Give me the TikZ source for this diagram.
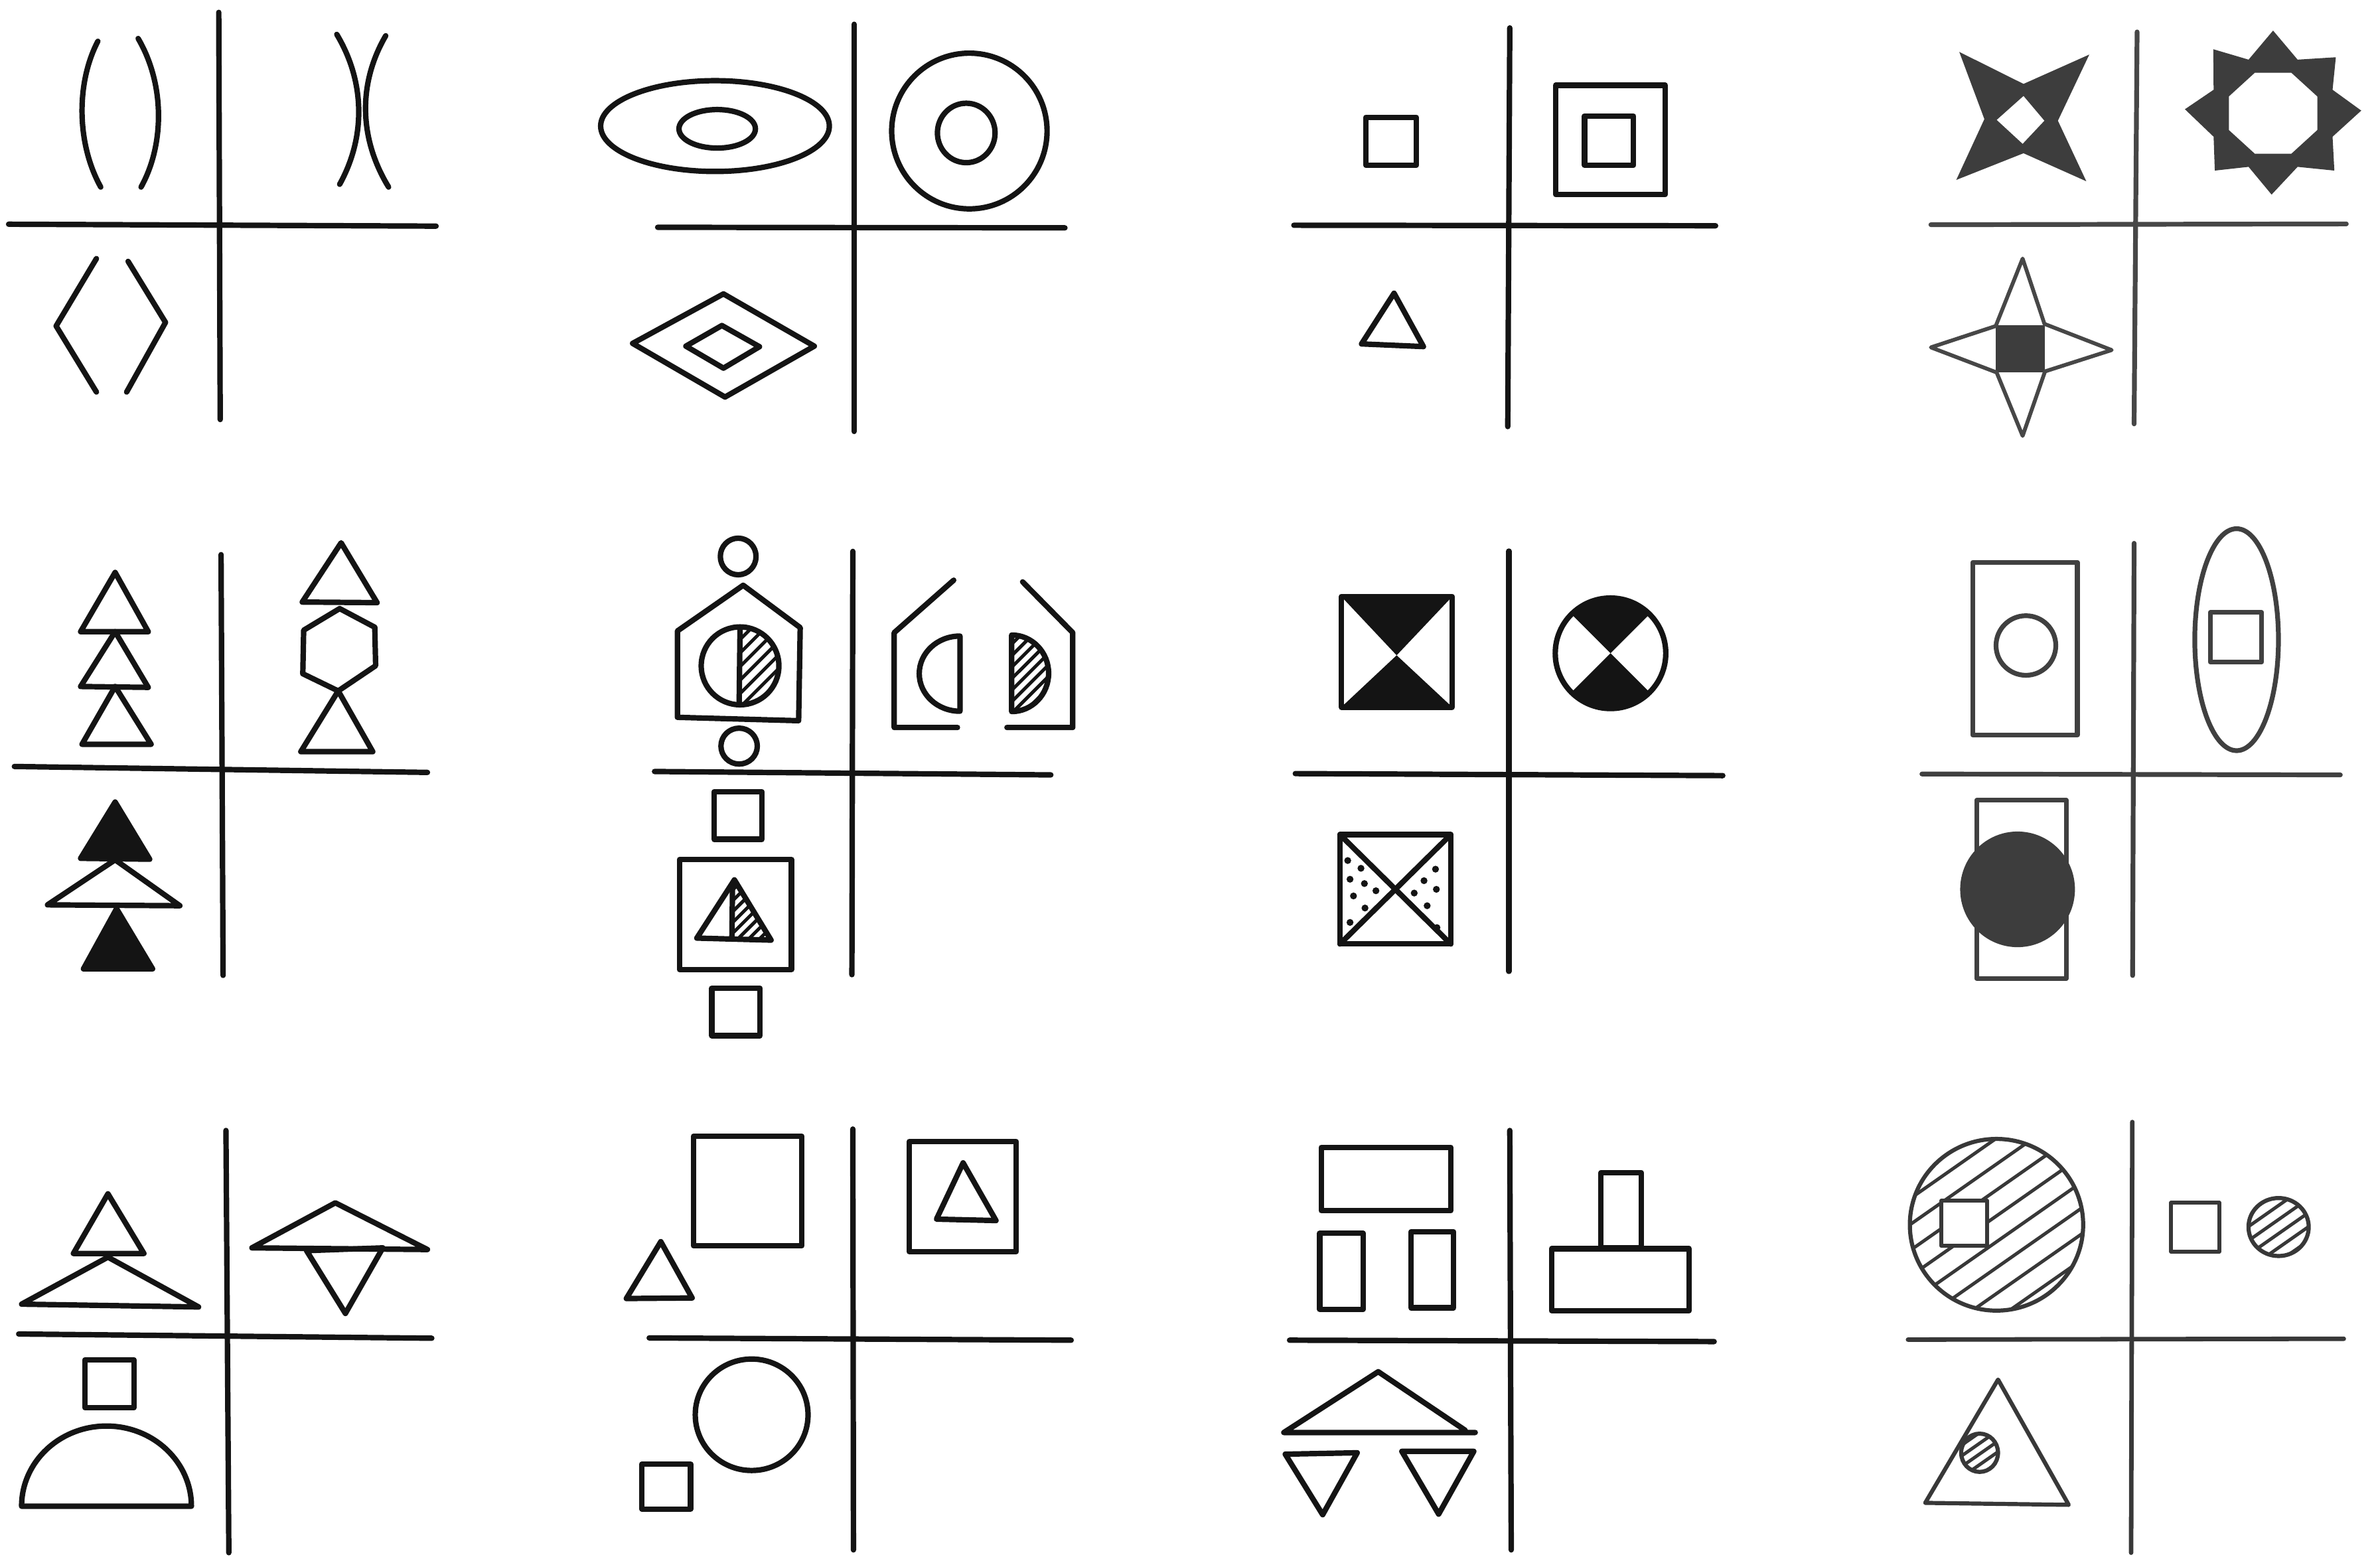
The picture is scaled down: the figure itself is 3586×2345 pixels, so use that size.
\documentclass[tikz,border=0pt]{standalone}
\definecolor{ink}{gray}{0.08}
\definecolor{gfill}{gray}{0.24}
\tikzset{
  ln/.style={line width=4.1pt, line cap=round, line join=round, draw=ink},
  thn/.style={line width=2.9pt, line cap=round, line join=round, draw=ink},
  hl/.style={line width=2.5pt, draw=ink},
  dotm/.style={fill=ink},
}
\newcommand{\hatchset}[6]{%
  \foreach \k in {0,...,#5}{\draw[hl] (#1,{#3+\k*#4}) -- (#2,{#3+\k*#4-#6*(#2-#1)});}}
\begin{document}
\begin{tikzpicture}[x=0.5pt,y=-0.5pt]
\fill[white] (0,0) rectangle (3586,2345);
\useasboundingbox (0,0) rectangle (3586,2345);

% ---------- Panel 1
\begin{scope}[shift={(0,0)}, xscale=0.4337, yscale=0.4145]
  \draw[ln] (760,45)--(765,1525);
  \draw[ln] (30,815)--(1515,822);
  \draw[ln] (340,150) .. controls (265,300) and (265,520) .. (350,680);
  \draw[ln] (480,140) .. controls (575,310) and (570,530) .. (490,680);
  \draw[ln] (1170,125) .. controls (1270,300) and (1270,500) .. (1180,670);
  \draw[ln] (1340,130) .. controls (1245,300) and (1245,500) .. (1350,680);
  \draw[ln] (335,940)--(195,1185)--(335,1425);
  \draw[ln] (445,950)--(575,1172)--(440,1425);
\end{scope}

% ---------- Panel 2
\begin{scope}[shift={(880,20)}, xscale=0.472, yscale=0.4145]
  \draw[ln] (862,40)--(862,1520);
  \draw[ln] (235,778)--(1535,780);
  \draw[ln] (418,410) ellipse [x radius=365, y radius=165];
  \draw[ln] (425,420) ellipse [x radius=122, y radius=70];
  \draw[ln] (1230,428) ellipse [x radius=248, y radius=283];
  \draw[ln] (1220,435) ellipse [x radius=92, y radius=108];
  \draw[ln] (445,1020)--(735,1210)--(450,1395)--(155,1200)--cycle;
  \draw[ln] (440,1135)--(560,1212)--(445,1290)--(325,1210)--cycle;
\end{scope}

% ---------- Panel 3
\begin{scope}[shift={(1930,30)}, xscale=0.4337, yscale=0.4018]
  \draw[ln] (795,30)--(788,1525);
  \draw[ln] (45,770)--(1510,772);
  \draw[ln] (295,365) rectangle (470,545);
  \draw[ln] (955,245) rectangle (1335,655);
  \draw[ln] (1055,360) rectangle (1225,545);
  \draw[ln] (393,1025)--(495,1225)--(280,1215)--cycle;
\end{scope}

% ---------- Panel 4
\begin{scope}[shift={(2880,30)}, xscale=0.4503, yscale=0.4018]
  \colorlet{ink}{black!72}
  \draw[ln, line width=3.6pt] (755,45)--(745,1515);
  \draw[ln, line width=3.6pt] (65,768)--(1455,765);
  \fill[gfill, even odd rule] (160,120)--(375,240)--(595,130)--(490,378)--(585,605)--(375,500)--(150,600)--(244,372)--cycle
     (375,285)--(445,378)--(372,465)--(285,375)--cycle;
  \fill[gfill, even odd rule] (1210,40)--(1292,149)--(1420,140)--(1409,262)--(1505,340)--(1409,438)--(1415,565)--(1292,551)--(1205,655)--(1128,551)--(1015,565)--(1011,438)--(915,335)--(1011,262)--(1010,110)--(1128,149)--cycle
     (1358,287)--(1271,198)--(1149,198)--(1062,287)--(1062,413)--(1149,502)--(1271,502)--(1358,413)--cycle;
  \fill[gfill] (282,1146) rectangle (447,1322);
  \draw[thn] (372,895)--(445,1140)--(670,1238)--(447,1318)--(372,1560)--(285,1322)--(65,1228)--(282,1148)--cycle;
\end{scope}

% ---------- Panel 5
\begin{scope}[shift={(0,800)}, xscale=0.4337, yscale=0.4464]
  \draw[ln] (768,80)--(775,1500);
  \draw[ln] (50,795)--(1485,815);
  \draw[ln] (400,140)--(515,340)--(280,340)--cycle;
  \draw[ln] (400,340)--(515,528)--(280,525)--cycle;
  \draw[ln] (400,525)--(525,720)--(285,720)--cycle;
  \draw[ln] (1185,40)--(1310,242)--(1050,240)--cycle;
  \draw[ln] (1180,262)--(1302,325)--(1305,455)--(1175,540)--(1052,482)--(1055,335)--cycle;
  \draw[ln] (1175,540)--(1295,745)--(1045,745)--cycle;
  \filldraw[ln, fill=ink] (400,915)--(520,1108)--(280,1105)--cycle;
  \draw[ln] (400,1110)--(625,1265)--(165,1262)--cycle;
  \filldraw[ln, fill=ink] (405,1275)--(530,1478)--(290,1478)--cycle;
\end{scope}

% ---------- Panel 6
\begin{scope}[shift={(880,790)}, xscale=0.472, yscale=0.5102]
  \draw[ln] (858,80)--(855,1330);
  \draw[ln] (225,730)--(1490,740);
  \draw[ln] (492,95) ellipse [x radius=57, y radius=54];
  \draw[ln] (298,570)--(298,315)--(508,180)--(690,305)--(685,580)--cycle;
  \begin{scope}
    \clip (498,418) ellipse [x radius=124, y radius=115];
    \clip (498,250) rectangle (700,600);
    \hatchset{498}{625}{300}{40}{9}{0.925}
  \end{scope}
  \draw[ln] (498,418) ellipse [x radius=124, y radius=115];
  \draw[ln] (498,303)--(495,533);
  \draw[ln] (495,655) ellipse [x radius=58, y radius=53];
  \draw[ln] (415,790) rectangle (568,930);
  \draw[ln] (305,990) rectangle (662,1315);
  \begin{scope}
    \clip (480,1050)--(597,1228)--(360,1222)--cycle;
    \clip (472,1000) rectangle (640,1250);
    \hatchset{472}{600}{1050}{32}{10}{0.925}
  \end{scope}
  \draw[ln] (480,1050)--(597,1228)--(360,1222)--cycle;
  \draw[ln] (474,1062)--(472,1222);
  \draw[ln] (408,1370) rectangle (562,1510);
  % top right
  \draw[ln] (1180,165)--(990,320)--(990,600)--(1192,600);
  \draw[ln] (1200,330) arc[start angle=-90, end angle=-270, x radius=130, y radius=111] -- cycle;
  \draw[ln] (1400,170)--(1560,320)--(1560,600)--(1350,600);
  \begin{scope}
    \clip (1365,327) arc[start angle=-90, end angle=90, x radius=118, y radius=113] -- cycle;
    \hatchset{1365}{1490}{320}{34}{10}{0.925}
  \end{scope}
  \draw[ln] (1365,327) arc[start angle=-90, end angle=90, x radius=118, y radius=113] -- cycle;
\end{scope}

% ---------- Panel 7
\begin{scope}[shift={(1930,800)}, xscale=0.4337, yscale=0.4337]
  \draw[ln] (792,70)--(792,1530);
  \draw[ln] (50,843)--(1535,850);
  \fill[ink] (210,228)--(595,228)--(402,432)--cycle;
  \fill[ink] (210,612)--(595,612)--(402,432)--cycle;
  \draw[ln] (210,228) rectangle (595,612);
  \fill[ink] (1145,425) -- ({1145+192*cos(225)},{425+192*sin(225)}) arc[start angle=225, end angle=315, radius=192] -- cycle;
  \fill[ink] (1145,425) -- ({1145+192*cos(45)},{425+192*sin(45)}) arc[start angle=45, end angle=135, radius=192] -- cycle;
  \draw[ln] (1145,425) circle [radius=192];
  \draw[ln] (205,1055) rectangle (590,1435);
  \draw[ln] (205,1055)--(590,1435);
  \draw[ln] (590,1055)--(205,1435);
  \foreach \p in {(232,1145),(278,1172),(240,1210),(290,1225),(330,1250),(252,1268),(292,1310),(240,1360),
                  (537,1175),(497,1215),(540,1245),(463,1258),(508,1302),(542,1378)}
    \fill[dotm] \p circle [radius=12];
\end{scope}

% ---------- Panel 8
\begin{scope}[shift={(2880,790)}, xscale=0.4503, yscale=0.44]
  \colorlet{ink}{black!75}
  \draw[ln, line width=3.6pt] (745,65)--(740,1545);
  \draw[ln, line width=3.6pt] (35,855)--(1435,858);
  \draw[ln, line width=3.6pt] (205,130) rectangle (555,722);
  \draw[ln, line width=3.6pt] (383,415) ellipse [x radius=100, y radius=102];
  \draw[ln, line width=3.6pt] (1088,395) ellipse [x radius=140, y radius=380];
  \draw[ln, line width=3.6pt] (1000,302) rectangle (1172,472);
  \draw[ln, line width=3.6pt] (218,945) rectangle (518,1555);
  \fill[gfill] (355,1250) ellipse [x radius=192, y radius=198];
\end{scope}

% ---------- Panel 9
\begin{scope}[shift={(0,1680)}, xscale=0.4337, yscale=0.4241]
  \draw[ln] (785,55)--(795,1555);
  \draw[ln] (65,778)--(1500,793);
  \draw[ln] (375,280)--(500,492)--(255,492)--cycle;
  \draw[ln] (375,505)--(690,682)--(75,672)--cycle;
  \draw[ln] (1165,312)--(1485,478)--(875,472)--cycle;
  \draw[ln] (1065,482)--(1330,472)--(1200,705)--cycle;
  \draw[ln] (295,870) rectangle (465,1040);
  \draw[ln] (75,1390) arc[start angle=180, end angle=360, x radius=295, y radius=285] -- cycle;
\end{scope}

% ---------- Panel 10
\begin{scope}[shift={(880,1680)}, xscale=0.472, yscale=0.4241]
  \draw[ln] (858,50)--(860,1545);
  \draw[ln] (208,792)--(1555,800);
  \draw[ln] (350,75) rectangle (695,465);
  \draw[ln] (245,450)--(345,650)--(135,652)--cycle;
  \draw[ln] (1038,95) rectangle (1380,485);
  \draw[ln] (1210,170)--(1315,375)--(1125,370)--cycle;
  \draw[ln] (535,1065) ellipse [x radius=180, y radius=198];
  \draw[ln] (185,1240) rectangle (340,1400);
\end{scope}

% ---------- Panel 11
\begin{scope}[shift={(1930,1680)}, xscale=0.4337, yscale=0.4241]
  \draw[ln] (795,55)--(800,1545);
  \draw[ln] (30,800)--(1505,805);
  \draw[ln] (140,115) rectangle (590,340);
  \draw[ln] (135,420) rectangle (285,690);
  \draw[ln] (452,415) rectangle (600,685);
  \draw[ln] (1112,205) rectangle (1252,472);
  \draw[ln] (940,475) rectangle (1418,695);
  \draw[ln] (675,1128)--(10,1128)--(338,912)--(640,1120);
  \draw[ln] (15,1205)--(265,1200)--(145,1420)--cycle;
  \draw[ln] (420,1195)--(670,1195)--(548,1418)--cycle;
\end{scope}

% ---------- Panel 12
\begin{scope}[shift={(2860,1680)}, xscale=0.463, yscale=0.4241]
  \colorlet{ink}{black!78}
  \draw[ln, line width=3.4pt] (762,25)--(758,1555);
  \draw[ln, line width=3.4pt] (32,798)--(1450,795);
  \begin{scope}
    \clip (320,390) ellipse [x radius=282, y radius=305];
    \hatchset{30}{610}{120}{92}{12}{0.764}
  \end{scope}
  \filldraw[thn, fill=white] (140,305) rectangle (290,465);
  \draw[thn, line width=3.1pt] (320,390) ellipse [x radius=282, y radius=305];
  \draw[thn, line width=3.1pt] (888,312) rectangle (1045,485);
  \begin{scope}
    \clip (1238,398) ellipse [x radius=98, y radius=103];
    \hatchset{1135}{1340}{300}{50}{8}{0.764}
  \end{scope}
  \draw[thn, line width=3.1pt] (1238,398) ellipse [x radius=98, y radius=103];
  \draw[thn, line width=3.1pt] (325,940)--(555,1385)--(88,1378)--cycle;
  \fill[white] (265,1200) ellipse [x radius=60, y radius=68];
  \begin{scope}
    \clip (265,1200) ellipse [x radius=60, y radius=68];
    \hatchset{200}{330}{1140}{38}{7}{0.764}
  \end{scope}
  \draw[thn, line width=3.1pt] (265,1200) ellipse [x radius=60, y radius=68];
\end{scope}
\end{tikzpicture}
\end{document}
